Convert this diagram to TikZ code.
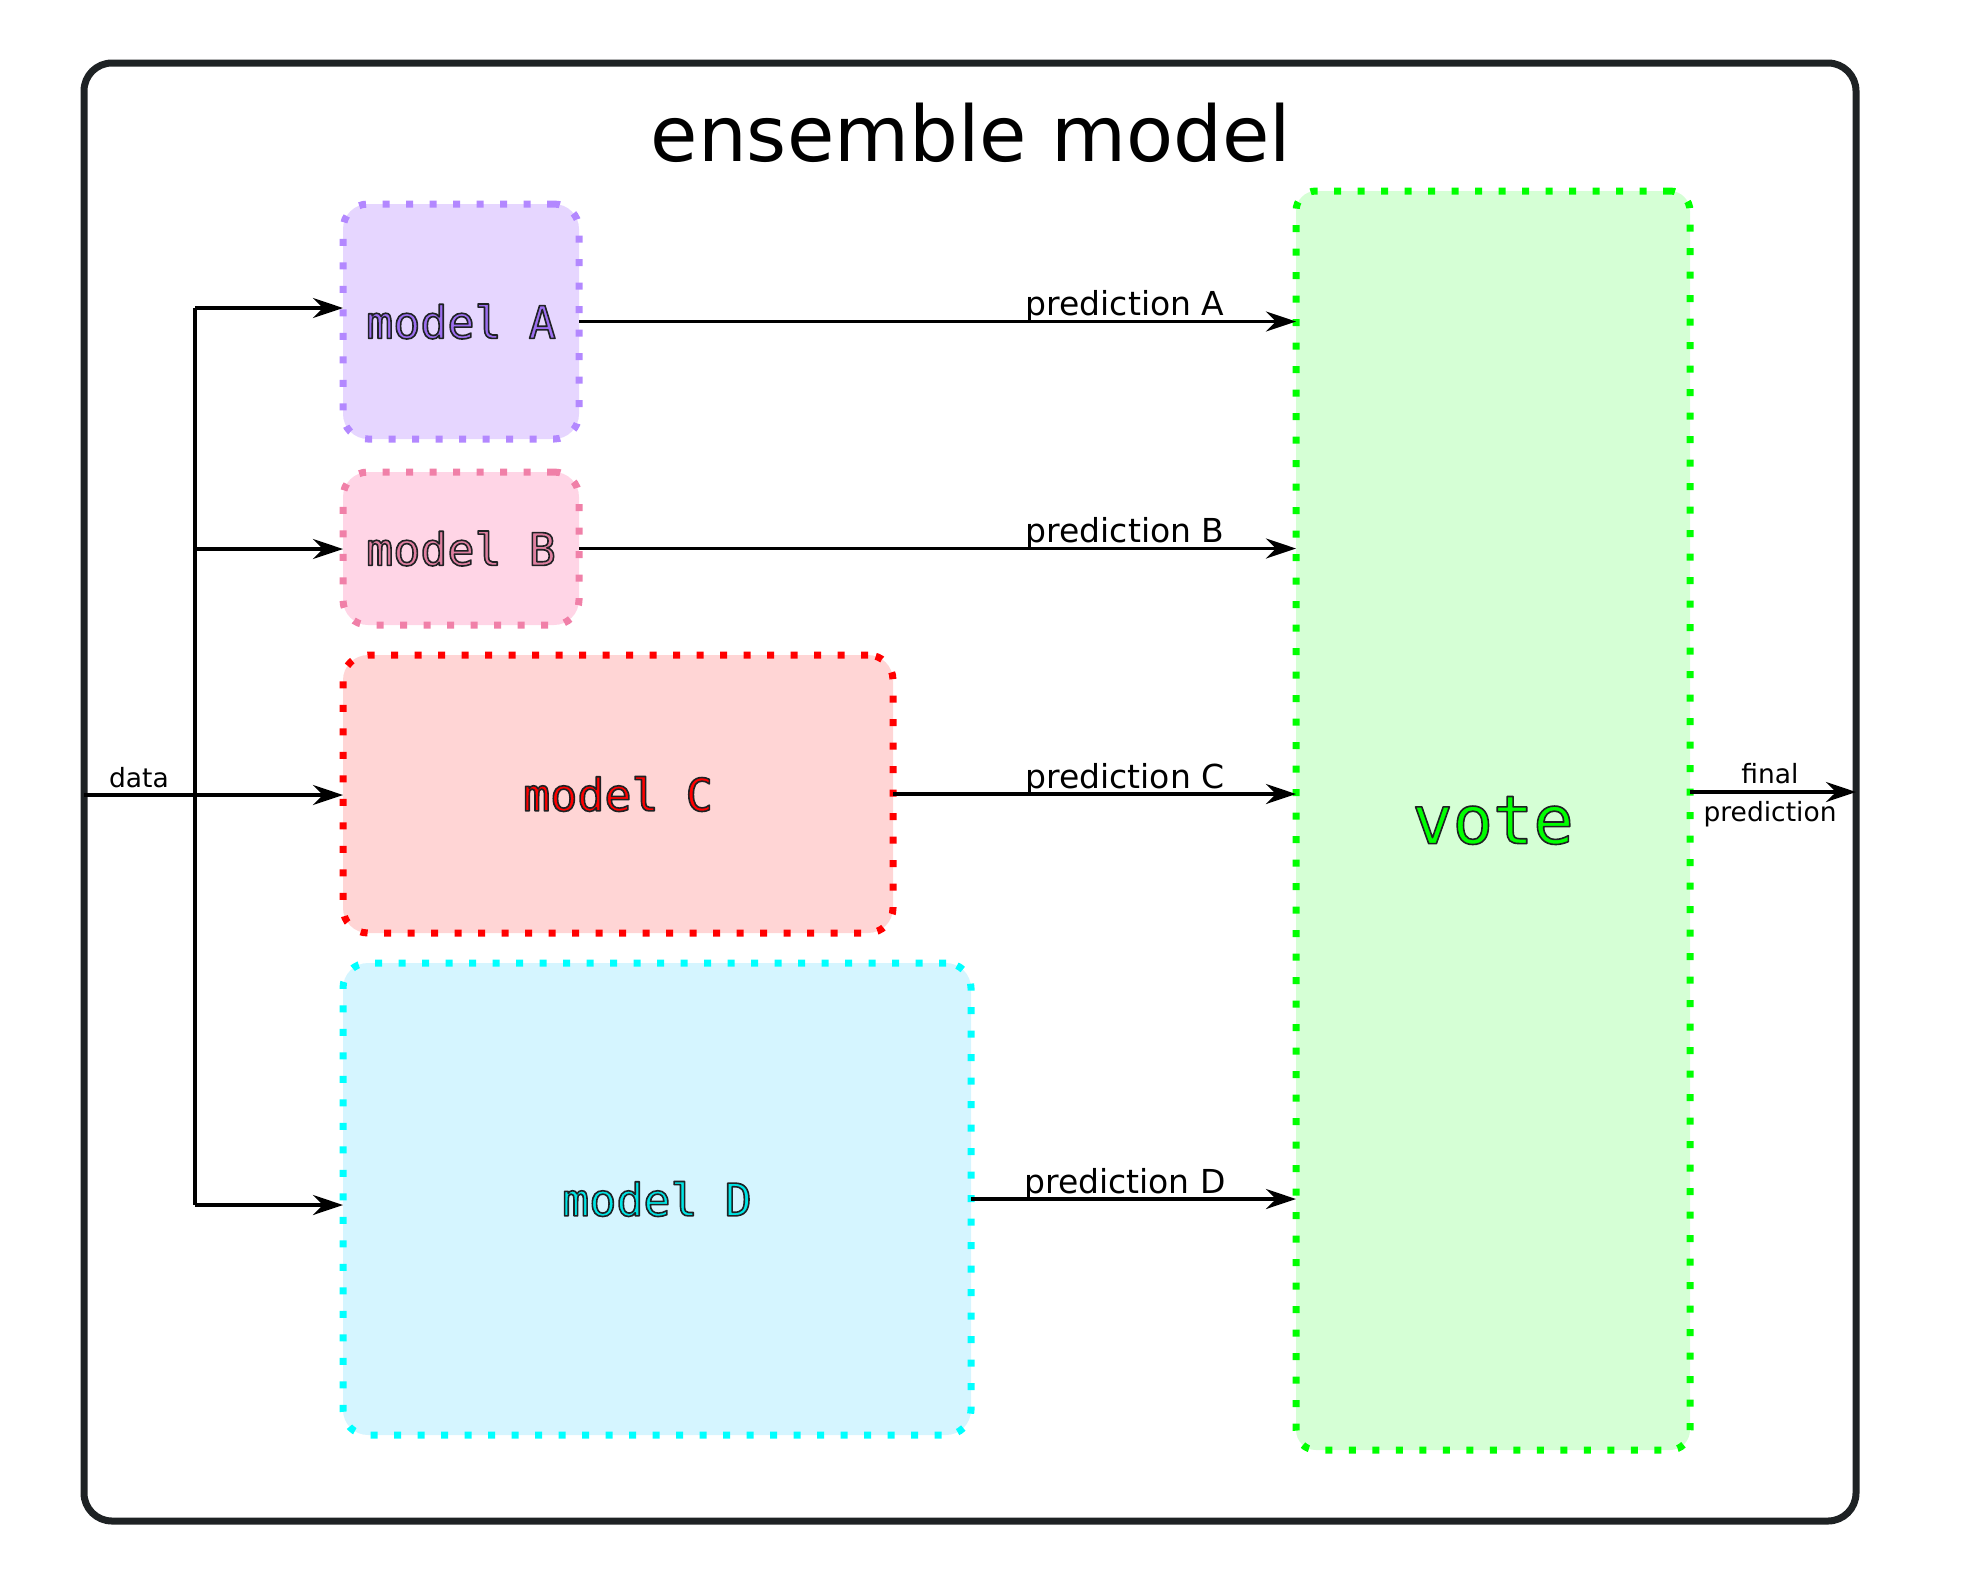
\documentclass[tikz,border=0pt]{standalone}
\usepackage{fontspec}
\setmainfont{DejaVu Sans}
\newfontfamily\monof{DejaVu Sans Mono}
\usetikzlibrary{arrows.meta}
\definecolor{frame}{HTML}{1E2224}
\definecolor{bA}{HTML}{B388FF}\definecolor{fA}{HTML}{E6D6FF}\definecolor{tA}{HTML}{9C6EF0}
\definecolor{bB}{HTML}{F080A8}\definecolor{fB}{HTML}{FFD5E6}\definecolor{tB}{HTML}{E07FA0}
\definecolor{bC}{HTML}{FF0000}\definecolor{fC}{HTML}{FFD5D5}\definecolor{tC}{HTML}{FF0000}
\definecolor{bD}{HTML}{00FFFF}\definecolor{fD}{HTML}{D5F5FF}\definecolor{tD}{HTML}{00E5E5}
\definecolor{bV}{HTML}{00FF00}\definecolor{fV}{HTML}{D5FFD5}\definecolor{tV}{HTML}{00FF00}
\newcommand\outl[1]{\special{pdf:literal direct 0.12 0.13 0.14 RG 1.6 w 1 j 2 Tr}#1\special{pdf:literal direct 0 Tr}}
\tikzset{
  mbox/.style={draw=#1, line width=7pt, dash pattern=on 7pt off 16.5pt, rounded corners=25pt,
    inner sep=0pt, outer sep=0pt, font=\monof\fontsize{45}{54}\selectfont},
  arr/.style={draw=black, line width=3.5pt, -{Stealth[length=30pt,width=20pt,inset=10pt]}},
  wire/.style={draw=black, line width=3.5pt},
  lbl/.style={inner sep=0pt, font=\fontsize{33}{40}\selectfont},
  slbl/.style={inner sep=0pt, font=\fontsize{26.5}{32}\selectfont},
}
\begin{document}
\begin{tikzpicture}[x=1pt,y=-1pt]
\useasboundingbox (0,0) rectangle (1969,1591);
\node[draw=frame, line width=7pt, rounded corners=28pt, minimum width=1772pt, minimum height=1458pt, inner sep=0pt, outer sep=0pt] (outer) at (970,792) {};
\node[anchor=base, inner sep=0pt, font=\fontsize{77}{90}\selectfont] (title) at (971,161) {ensemble model};

\node[mbox=bA, fill=fA, text=tA, minimum width=236pt, minimum height=235pt] (mA) at (461,321.5) {\outl{model A}};
\node[mbox=bB, fill=fB, text=tB, minimum width=236pt, minimum height=153pt] (mB) at (461,548.5) {\outl{model B}};
\node[mbox=bC, fill=fC, text=tC, minimum width=550pt, minimum height=278pt] (mC) at (618,794) {\outl{model C}};
\node[mbox=bD, fill=fD, text=tD, minimum width=628pt, minimum height=472pt] (mD) at (657,1199) {\outl{model D}};
\node[mbox=bV, fill=fV, text=tV, rounded corners=20pt, minimum width=394pt, minimum height=1259pt, font=\monof\fontsize{67}{80}\selectfont] (vote) at (1493,820.5) {\outl{vote}};

% data bus
\coordinate (busA) at (195,308);
\coordinate (busB) at (195,549);
\coordinate (busC) at (195,795);
\coordinate (busD) at (195,1205);
\coordinate (din) at (84,795);
\draw[wire] (busA) -- (busD);
\draw[arr] (din) -- (mC.west |- din);
\draw[arr] (busA) -- (mA.west |- busA);
\draw[arr] (busB) -- (mB.west |- busB);
\draw[arr] (busD) -- (mD.west |- busD);
\node[slbl, anchor=base] (ldata) at (139,787) {data};

% predictions
\draw[arr] (mA.east) -- (vote.west |- mA.east);
\draw[arr] (mB.east) -- (vote.west |- mB.east);
\draw[arr] (mC.east) -- (vote.west |- mC.east);
\draw[arr] (mD.east) -- (vote.west |- mD.east);
\node[lbl, anchor=base] (lA) at (1125,315) {prediction A};
\node[lbl, anchor=base] (lB) at (1125,542) {prediction B};
\node[lbl, anchor=base] (lC) at (1125,788) {prediction C};
\node[lbl, anchor=base] (lD) at (1125,1193) {prediction D};

% final
\coordinate (fy) at (0,792);
\draw[arr] (vote.east |- fy) -- (outer.east |- fy);
\node[slbl, anchor=base] (lf1) at (1770,783) {final};
\node[slbl, anchor=base] (lf2) at (1770,821) {prediction};
\end{tikzpicture}
\end{document}
